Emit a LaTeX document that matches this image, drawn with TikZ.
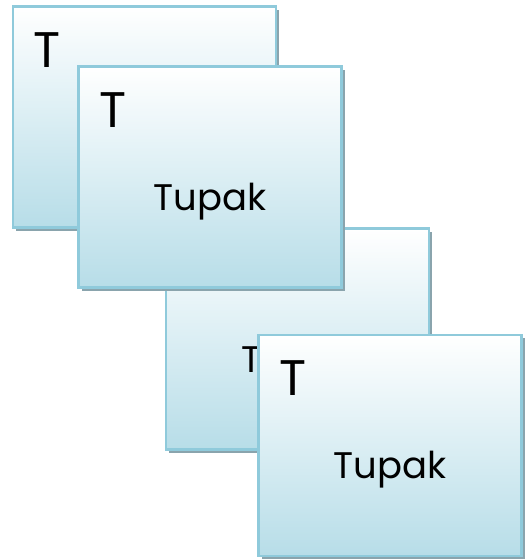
\documentclass[tikz,border=0pt]{standalone}
\usepackage{fontspec}
\setmainfont{Poppins}
\usetikzlibrary{shadows,calc}

\definecolor{cardline}{HTML}{8FCADB}
\definecolor{cardfill}{HTML}{B7DDE8}
\definecolor{cardshadow}{HTML}{8AA4AD}

\begin{document}
\begin{tikzpicture}[x=1pt,y=-1pt,
    card/.style={rectangle,draw=cardline,line width=2.6pt,
      minimum width=263pt,minimum height=221pt,
      top color=white,middle color=cardfill!35,bottom color=cardfill,
      drop shadow={shadow xshift=3pt,shadow yshift=-3pt,fill=cardshadow,opacity=1}},
    bigT/.style={font=\fontsize{50}{50}\selectfont,inner sep=0pt,anchor=north west},
    word/.style={font=\fontsize{37}{37}\selectfont,inner sep=0pt,anchor=base}]

    \useasboundingbox (0,0) rectangle (531,560);

    % back row
    \node[card] (a) at (144.5,117) {};
    \node[bigT] (a-t) at ($(a.north west)+(22,27)$) {T};

    \node[card] (c) at (297.5,339) {};
    \node[word] (c-tupak) at ($(c.center)+(0,33)$) {Tupak};

    % front row
    \node[card] (b) at (210,177) {};
    \node[bigT] (b-t) at ($(b.north west)+(22,27)$) {T};
    \node[word] (b-tupak) at ($(b.center)+(0,33)$) {Tupak};

    \node[card] (d) at (390,445.5) {};
    \node[bigT] (d-t) at ($(d.north west)+(22,27)$) {T};
    \node[word] (d-tupak) at ($(d.center)+(0,33)$) {Tupak};

\end{tikzpicture}
\end{document}
